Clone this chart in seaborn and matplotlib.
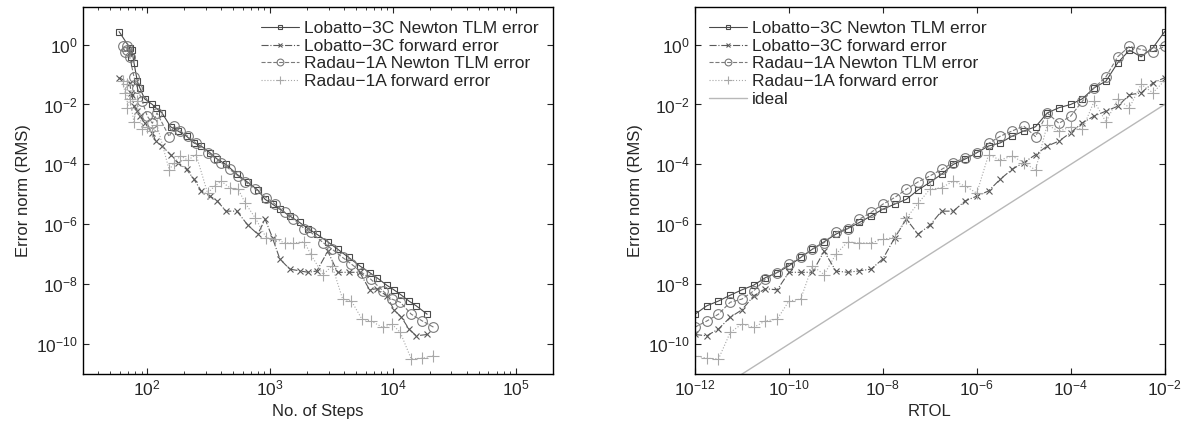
import numpy as np
import pandas as pd
import seaborn as sns
import matplotlib
matplotlib.use('Agg')
import matplotlib.pyplot as plt
from matplotlib.ticker import LogLocator, NullLocator, FixedLocator, LogFormatterMathtext

# relative tolerances used for the runs (4 per decade)
rtol = [1.0e-12, 1.78e-12, 3.16e-12, 5.62e-12,
        1.0e-11, 1.78e-11, 3.16e-11, 5.62e-11,
        1.0e-10, 1.78e-10, 3.16e-10, 5.62e-10,
        1.0e-9, 1.78e-9, 3.16e-9, 5.62e-9,
        1.0e-8, 1.78e-8, 3.16e-8, 5.62e-8,
        1.0e-7, 1.78e-7, 3.16e-7, 5.62e-7,
        1.0e-6, 1.78e-6, 3.16e-6, 5.62e-6,
        1.0e-5, 1.78e-5, 3.16e-5, 5.62e-5,
        1.0e-4, 1.78e-4, 3.16e-4, 5.62e-4,
        1.0e-3, 1.78e-3, 3.16e-3, 5.62e-3,
        1.0e-2]

# number of steps taken by each method
lobatto_steps = [19000, 15500, 13500, 11750, 10200, 8900, 7400, 6460, 5370, 4370,
                 3550, 2950, 2400, 2040, 1740, 1445, 1200, 1047, 912, 794,
                 660, 537, 437, 372, 324, 275, 240, 209, 178, 155,
                 132, 117, 110, 95, 87, 83, 78, 75, 74, 72, 59]
radau_steps = [21400, 17400, 14100, 11500, 9800, 8300, 6600, 5600, 4600, 3900,
               3200, 2700, 2140, 1900, 1550, 1320, 1100, 930, 760, 630,
               550, 470, 400, 355, 310, 250, 214, 186, 166, 151,
               120, 110, 100, 91, 83, 78, 72, 69, 68, 66, 63]

# RMS error norms
lobatto_newton = [1.0e-9, 1.9e-9, 2.75e-9, 4.3e-9, 6.5e-9, 9.3e-9, 1.66e-8, 2.45e-8, 4.1e-8, 7.8e-8,
                  1.48e-7, 2.6e-7, 4.7e-7, 7.2e-7, 1.15e-6, 1.9e-6, 3.2e-6, 4.7e-6, 6.8e-6, 1.4e-5,
                  2.5e-5, 4.7e-5, 1.0e-4, 1.5e-4, 2.45e-4, 4.1e-4, 5.2e-4, 8.7e-4, 1.3e-3, 1.8e-3,
                  5.2e-3, 7.8e-3, 1.0e-2, 1.55e-2, 3.6e-2, 6.0e-2, 0.245, 0.65, 0.39, 0.78, 2.7]
lobatto_forward = [2.1e-10, 1.9e-10, 3.2e-10, 7.9e-10, 1.4e-9, 4.1e-9, 7.1e-9, 6.5e-9, 2.5e-8, 2.5e-8,
                   2.5e-8, 1.26e-7, 2.75e-8, 2.5e-8, 2.8e-8, 3.2e-8, 7.0e-8, 3.5e-7, 1.48e-6, 4.7e-7,
                   9.3e-7, 2.75e-6, 2.75e-6, 6.0e-6, 8.7e-6, 1.3e-5, 3.2e-5, 6.8e-5, 1.15e-4, 2.1e-4,
                   4.1e-4, 6.0e-4, 1.15e-3, 2.45e-3, 4.1e-3, 6.0e-3, 8.7e-3, 2.1e-2, 2.45e-2, 5.2e-2, 7.8e-2]
radau_newton = [3.7e-10, 5.9e-10, 1.0e-9, 2.5e-9, 3.2e-9, 6.0e-9, 1.48e-8, 2.45e-8, 4.7e-8, 7.8e-8,
                1.48e-7, 2.45e-7, 5.5e-7, 7.2e-7, 1.48e-6, 2.5e-6, 4.7e-6, 7.8e-6, 1.48e-5, 2.6e-5,
                4.1e-5, 6.8e-5, 1.15e-4, 1.66e-4, 2.45e-4, 5.0e-4, 8.7e-4, 1.3e-3, 1.9e-3, 8.5e-4,
                5.2e-3, 2.35e-3, 4.1e-3, 1.3e-2, 3.6e-2, 8.3e-2, 0.39, 0.87, 0.68, 0.58, 0.87]
radau_forward = [4.1e-11, 3.4e-11, 3.2e-11, 2.45e-10, 4.7e-10, 3.6e-10, 6.0e-10, 6.8e-10, 2.75e-9, 3.2e-9,
                 4.1e-8, 2.1e-8, 1.0e-7, 2.6e-7, 2.4e-7, 2.4e-7, 3.2e-7, 3.6e-7, 1.6e-6, 5.0e-6,
                 1.48e-5, 1.66e-5, 2.75e-5, 1.9e-5, 1.1e-5, 2.1e-4, 1.4e-4, 1.9e-4, 1.15e-4, 6.5e-5,
                 2.1e-3, 1.26e-3, 1.8e-3, 1.5e-3, 1.3e-2, 2.6e-3, 1.5e-2, 7.8e-3, 4.7e-2, 2.45e-2, 6.3e-2]
ideal = list(rtol)

labels = ['Lobatto\u22123C Newton TLM error', 'Lobatto\u22123C forward error',
          'Radau\u22121A Newton TLM error', 'Radau\u22121A forward error']

err_ticks = [1e-10, 1e-8, 1e-6, 1e-4, 1e-2, 1e0]
steps_ticks = [1e2, 1e3, 1e4, 1e5]
rtol_ticks = [1e-12, 1e-10, 1e-8, 1e-6, 1e-4, 1e-2]

sns.set_style('ticks')
plt.rcParams['font.family'] = ['Liberation Sans', 'DejaVu Sans']
plt.rcParams['mathtext.fontset'] = 'custom'
plt.rcParams['mathtext.rm'] = 'Liberation Sans'
plt.rcParams['mathtext.it'] = 'Liberation Sans'

# (label, error, steps, color, linestyle, marker, markersize)
series = [
    (labels[0], lobatto_newton, lobatto_steps, '#4a4a4a', '-', 's', 5),
    (labels[1], lobatto_forward, lobatto_steps, '#5a5a5a', '-.', 'x', 5),
    (labels[2], radau_newton, radau_steps, '#7a7a7a', '--', 'o', 7),
    (labels[3], radau_forward, radau_steps, '#a8a8a8', ':', '+', 8),
]

fig = plt.figure(figsize=(11.86, 4.33), dpi=100)
ax1 = fig.add_axes([0.070, 0.136, 0.396, 0.848])
ax2 = fig.add_axes([0.586, 0.136, 0.396, 0.848])

for lab, err, steps, col, ls, mk, ms in series:
    df = pd.DataFrame({'steps': steps, 'rtol': rtol, 'err': err})
    kw = dict(color=col, linestyle=ls, marker=mk, markersize=ms, lw=0.8,
              mfc='none', mec=col, mew=0.8, sort=False, estimator=None)
    sns.lineplot(data=df, x='steps', y='err', ax=ax1, label=lab, **kw)
    sns.lineplot(data=df, x='rtol', y='err', ax=ax2, label=lab, **kw)

df_ideal = pd.DataFrame({'rtol': rtol, 'err': ideal})
sns.lineplot(data=df_ideal, x='rtol', y='err', ax=ax2, label='ideal',
             color='#b8b8b8', lw=1.0, sort=False, estimator=None)

for ax in (ax1, ax2):
    ax.set_xscale('log')
    ax.set_yscale('log')
    ax.set_ylim(1e-11, 18)
    ax.yaxis.set_major_locator(FixedLocator(err_ticks))
    ax.yaxis.set_minor_locator(NullLocator())
    ax.yaxis.set_major_formatter(LogFormatterMathtext())
    ax.set_ylabel('Error norm (RMS)', fontsize=12)
    ax.tick_params(which='both', direction='in', top=True, right=True, labelsize=12.5)
    ax.tick_params(which='major', length=4, width=0.8)
    ax.tick_params(which='minor', length=2, width=0.6)
    for sp in ax.spines.values():
        sp.set_linewidth(1.0)
        sp.set_color('black')

ax1.set_xlim(30, 2e5)
ax1.xaxis.set_major_locator(FixedLocator(steps_ticks))
ax1.xaxis.set_minor_locator(LogLocator(base=10.0, subs=np.arange(2, 10)))
ax1.xaxis.set_major_formatter(LogFormatterMathtext())
ax1.set_xlabel('No. of Steps', fontsize=12)

ax2.set_xlim(1e-12, 1e-2)
ax2.xaxis.set_major_locator(FixedLocator(rtol_ticks))
ax2.xaxis.set_minor_locator(NullLocator())
ax2.xaxis.set_major_formatter(LogFormatterMathtext())
ax2.set_xlabel('RTOL', fontsize=12)

leg_kw = dict(frameon=False, fontsize=12.5, labelspacing=0.15, handlelength=2.2,
              handletextpad=0.3, borderaxespad=0.4, markerscale=0.7)
ax1.legend(loc='upper right', **leg_kw)
ax2.legend(loc='upper left', **leg_kw)

fig.savefig('out.png', dpi=100)
